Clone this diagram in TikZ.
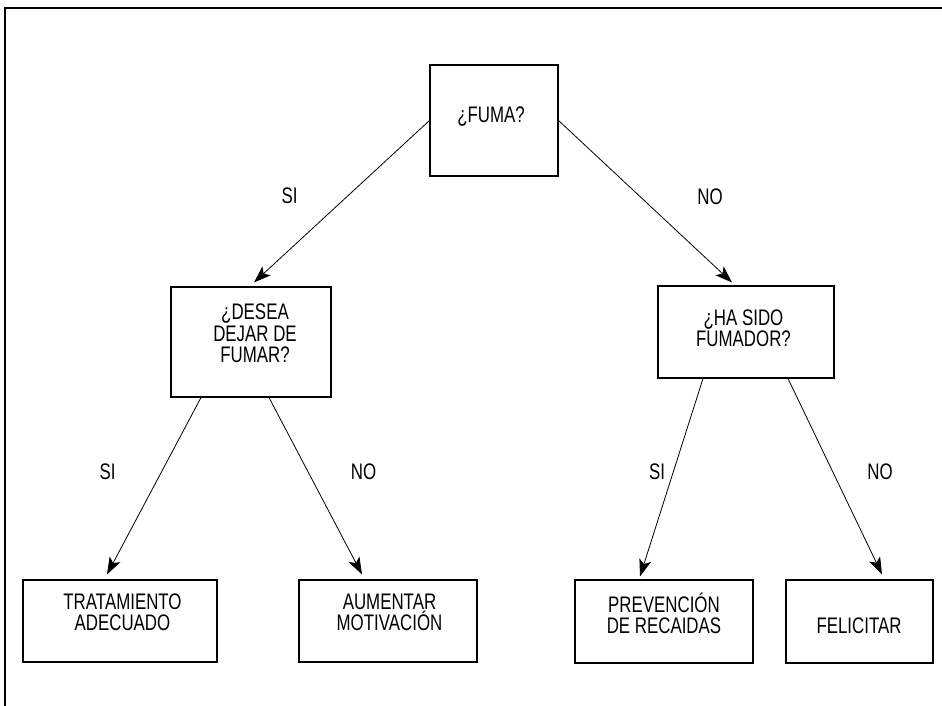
\documentclass[tikz,border=0pt]{standalone}
\usepackage{fontspec}
\setmainfont[FakeStretch=0.75]{Liberation Sans}
\usetikzlibrary{arrows.meta}
\begin{document}
\begin{tikzpicture}[x=1pt,y=-1pt,
  qbox/.style={draw=black,line width=1.1pt,inner sep=0pt,rectangle},
  txt/.style={font=\fontsize{22.5}{21.5}\selectfont,align=center,inner sep=0pt,text depth=0pt,anchor=south},
  lbl/.style={font=\fontsize{22.5}{21.5}\selectfont,inner sep=0pt,anchor=base},
  conn/.style={draw=black,line width=0.8pt,-{Stealth[length=17pt,width=12pt,inset=4pt]}}]
\useasboundingbox (0,0) rectangle (942,706);
% frame
\draw[line width=1.8pt] (5,706) -- (5,8) -- (942,8);
% boxes
\node[qbox,minimum width=128pt,minimum height=111pt] (fuma) at (494,120.5) {};
\node[qbox,minimum width=160pt,minimum height=110pt] (desea) at (251,342) {};
\node[qbox,minimum width=176pt,minimum height=92pt] (hasido) at (746,332) {};
\node[qbox,minimum width=194pt,minimum height=82pt] (trat) at (120,621) {};
\node[qbox,minimum width=178pt,minimum height=82pt] (aum) at (388,621) {};
\node[qbox,minimum width=178pt,minimum height=83pt] (prev) at (664,621.5) {};
\node[qbox,minimum width=147pt,minimum height=83pt] (feli) at (859.5,621.5) {};
% texts
\node[txt] (tfuma) at (491,123) {¿FUMA?};
\node[txt] (tdesea) at (255,363) {¿DESEA\\DEJAR DE\\FUMAR?};
\node[txt] (thasido) at (743.5,347) {¿HA SIDO\\FUMADOR?};
\node[txt] (ttrat) at (122.5,631) {TRATAMIENTO\\ADECUADO};
\node[txt] (taum) at (389.5,631) {AUMENTAR\\MOTIVACIÓN};
\node[txt] (tprev) at (664,634) {PREVENCIÓN\\DE RECAIDAS};
\node[txt] (tfeli) at (859,634) {FELICITAR};
% connectors
\draw[conn] (fuma.west) -- ([xshift=3pt,yshift=4pt]desea.north);
\draw[conn] (fuma.east) -- ([xshift=-14pt,yshift=3pt]hasido.north);
\draw[conn] ([xshift=-50pt]desea.south) -- ([xshift=-13pt,yshift=5pt]trat.north);
\draw[conn] ([xshift=18pt]desea.south) -- ([xshift=-26pt,yshift=5pt]aum.north);
\draw[conn] ([xshift=-43pt]hasido.south) -- ([xshift=-24pt,yshift=3pt]prev.north);
\draw[conn] ([xshift=42pt]hasido.south) -- ([xshift=22.5pt,yshift=5pt]feli.north);
% labels
\node[lbl] (l1) at (289.5,203) {SI};
\node[lbl] (l2) at (710,204) {NO};
\node[lbl] (l3) at (107.5,479) {SI};
\node[lbl] (l4) at (363.5,479) {NO};
\node[lbl] (l5) at (657,479) {SI};
\node[lbl] (l6) at (880,479) {NO};
\end{tikzpicture}
\end{document}
